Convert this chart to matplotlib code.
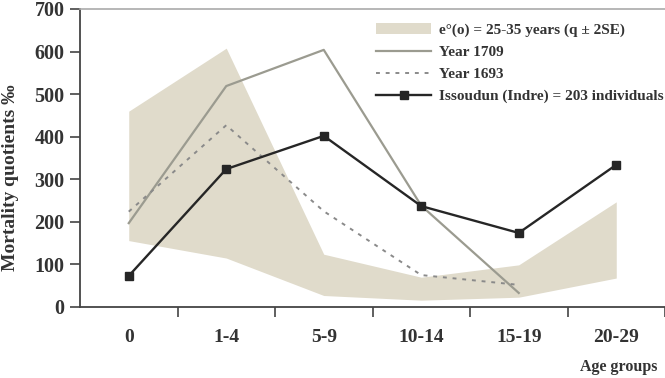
import numpy as np
import matplotlib.pyplot as plt

plt.rcParams['font.family'] = ['Liberation Serif', 'DejaVu Serif']
plt.rcParams['font.weight'] = 'bold'

age_groups = ['0', '1-4', '5-9', '10-14', '15-19', '20-29']
band_low = [156, 115, 27, 16, 23, 68]
band_high = [460, 608, 124, 70, 99, 247]
year_1709 = [197, 519, 604, 238, 33]
year_1693 = [224, 427, 225, 75, 52]
issoudun = [73, 324, 402, 237, 174, 334]

x = np.arange(len(age_groups))

fig = plt.figure(figsize=(6.65, 3.78), dpi=100)
ax = fig.add_axes([80 / 665, 1 - 307 / 378, 1 - 80 / 665, (307 - 9) / 378])

band = ax.fill_between(x, band_low, band_high, color='#e0dbcb', linewidth=0,
                       label='e°(o) = 25-35 years (q ± 2SE)')
l1709, = ax.plot(x[:len(year_1709)], year_1709, color='#9b9b90', lw=1.6, label='Year 1709')
l1693, = ax.plot(x[:len(year_1693)], year_1693, color='#8a8a8a', lw=1.4,
                 linestyle=(0, (2, 3)), label='Year 1693')
liss, = ax.plot(x, issoudun, color='#262626', lw=1.7, marker='s', markersize=6,
                label='Issoudun (Indre) = 203 individuals')

ax.set_xlim(-0.5, 5.47)
ax.set_ylim(0, 700)
ax.set_yticks(range(0, 701, 100))
# ticks sit between the groups, labels under the groups
ax.set_xticks(x + 0.5)
ax.set_xticklabels([])
ax.set_xticks(x, minor=True)
ax.set_xticklabels(age_groups, minor=True)
ax.tick_params(axis='x', which='minor', length=0, pad=16, labelsize=14, labelcolor='#333333')
ax.tick_params(axis='x', which='major', length=7, width=1.2, color='#444444')
ax.tick_params(axis='y', length=7, width=1.2, color='#444444', pad=4, labelsize=14.5,
               labelcolor='#333333')
for lab in ax.get_xticklabels(minor=True) + ax.get_yticklabels():
    lab.set_fontweight('bold')

ax.spines['left'].set_color('#444444')
ax.spines['left'].set_linewidth(1.3)
ax.spines['bottom'].set_color('#444444')
ax.spines['bottom'].set_linewidth(1.3)
ax.spines['top'].set_color('#aaaaaa')
ax.spines['top'].set_linewidth(1.2)
ax.spines['right'].set_visible(False)

fig.text(11 / 665, 1 - 178 / 378, 'Mortality quotients ‰', rotation=90, ha='center',
         va='center', fontsize=14, fontweight='bold', color='#333333')
fig.text(657 / 665, 1 - 367 / 378, 'Age groups', ha='right', va='center', fontsize=11.5,
         fontweight='bold', color='#333333')

leg = fig.legend(handles=[band, l1709, l1693, liss], loc='upper left',
                 bbox_to_anchor=(376 / 665, 1 - 23 / 378), frameon=False, fontsize=11,
                 handlelength=3.6, handletextpad=0.5, labelspacing=0.55, borderpad=0,
                 borderaxespad=0, numpoints=1)
for t in leg.get_texts():
    t.set_color('#333333')

fig.savefig('out.png', dpi=100)
